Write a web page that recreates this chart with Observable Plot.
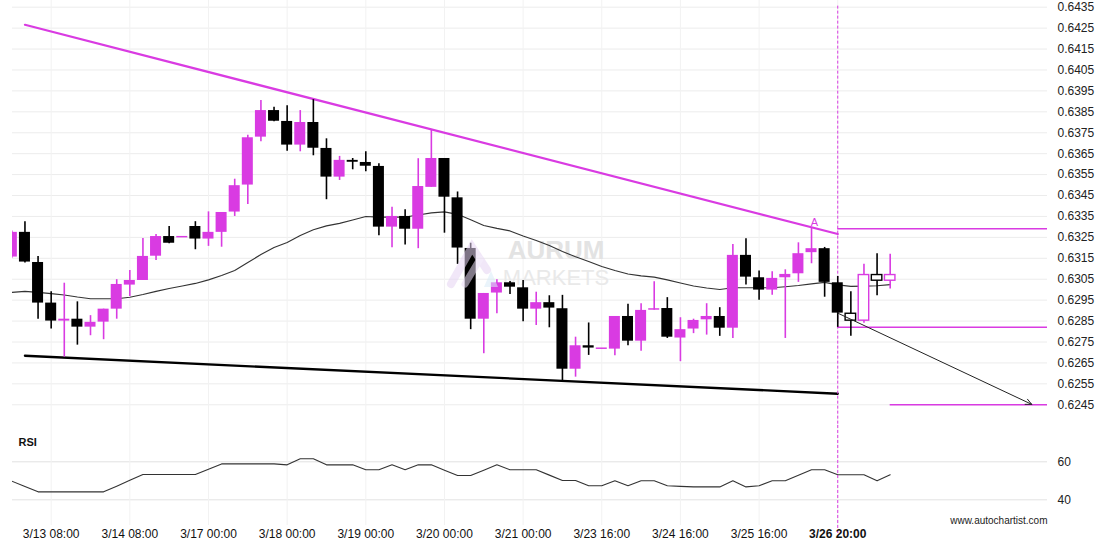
<!DOCTYPE html>
<html><head><meta charset="utf-8">
<script src="https://cdn.jsdelivr.net/npm/d3@7"></script>
<script src="https://cdn.jsdelivr.net/npm/@observablehq/plot@0.6"></script>
<style>
html,body{margin:0;padding:0;background:#fff;}
#chart{position:relative;width:1110px;height:550px;font-family:"Liberation Sans",Arial,sans-serif;}
#chart svg{display:block;}
#logo{position:absolute;left:0;top:0;pointer-events:none;}
</style></head><body>
<div id="chart"></div>
<script>
// ---- data (4h candles, index 0..67) ----
const opens  = [0.63156,0.63274,0.63130,0.62936,0.62850,0.62859,0.62821,0.62845,0.62907,0.63022,
                0.63044,0.63160,0.63254,0.63250,0.63302,0.63242,0.63274,0.63371,0.63500,0.63729,
                0.63856,0.63804,0.63691,0.63799,0.63675,0.63538,0.63618,0.63608,0.63589,0.63299,
                0.63350,0.63289,0.63489,0.63627,0.63439,0.63197,0.62859,0.62984,0.63033,0.63009,
                0.62907,0.62938,0.62909,0.62620,0.62732,0.62717,0.62716,0.62872,0.62754,0.62902,
                0.62910,0.62769,0.62812,0.62856,0.62872,0.62816,0.63164,0.63057,0.62998,0.63057,
                0.63076,0.63177,0.63196,0.63033,0.62885,0.62852,0.63070,0.63043];
const highs  = [0.63280,0.63325,0.63159,0.62990,0.63031,0.62942,0.62876,0.62907,0.63048,0.63092,
                0.63245,0.63264,0.63302,0.63252,0.63325,0.63372,0.63369,0.63528,0.63738,0.63904,
                0.63872,0.63879,0.63856,0.63908,0.63721,0.63637,0.63627,0.63659,0.63602,0.63394,
                0.63382,0.63626,0.63761,0.63627,0.63467,0.63222,0.62982,0.63048,0.63039,0.63044,
                0.62988,0.62971,0.62973,0.62773,0.62841,0.62719,0.62872,0.62930,0.62933,0.63038,
                0.62962,0.62866,0.62859,0.62933,0.62914,0.63216,0.63243,0.63089,0.63086,0.63095,
                0.63224,0.63296,0.63202,0.63063,0.62990,0.63121,0.63172,0.63169];
const lows   = [0.63150,0.63127,0.62859,0.62812,0.62678,0.62735,0.62780,0.62761,0.62859,0.62968,
                0.63044,0.63140,0.63220,0.63250,0.63191,0.63207,0.63203,0.63350,0.63407,0.63707,
                0.63802,0.63662,0.63659,0.63640,0.63430,0.63522,0.63573,0.63564,0.63258,0.63200,
                0.63213,0.63196,0.63489,0.63270,0.63121,0.62809,0.62694,0.62885,0.62977,0.62847,
                0.62829,0.62818,0.62566,0.62582,0.62686,0.62717,0.62684,0.62732,0.62706,0.62902,
                0.62767,0.62656,0.62790,0.62783,0.62777,0.62767,0.63022,0.62949,0.62974,0.62767,
                0.63035,0.63124,0.62964,0.62820,0.62777,0.62840,0.62971,0.63003];
const closes = [0.63274,0.63132,0.62936,0.62850,0.62859,0.62821,0.62844,0.62907,0.63025,0.63044,
                0.63159,0.63254,0.63222,0.63252,0.63242,0.63274,0.63369,0.63497,0.63726,0.63856,
                0.63805,0.63691,0.63799,0.63676,0.63538,0.63618,0.63609,0.63590,0.63299,0.63350,
                0.63289,0.63493,0.63627,0.63442,0.63199,0.62859,0.62982,0.63033,0.63012,0.62907,
                0.62938,0.62912,0.62620,0.62732,0.62721,0.62719,0.62872,0.62754,0.62901,0.62909,
                0.62773,0.62809,0.62853,0.62872,0.62816,0.63164,0.63060,0.62998,0.63054,0.63073,
                0.63172,0.63196,0.63035,0.62888,0.62852,0.63070,0.63043,0.63070];
const movingAvg = [0.62987,0.62992,0.62987,0.62981,0.62975,0.62965,0.62957,0.62957,0.62957,0.62964,
                0.62977,0.62992,0.63006,0.63018,0.63030,0.63047,0.63068,0.63092,0.63130,0.63168,
                0.63202,0.63226,0.63259,0.63286,0.63305,0.63317,0.63333,0.63350,0.63347,0.63347,
                0.63347,0.63357,0.63367,0.63372,0.63360,0.63334,0.63307,0.63293,0.63281,0.63257,
                0.63235,0.63211,0.63183,0.63157,0.63135,0.63111,0.63092,0.63075,0.63066,0.63060,
                0.63047,0.63032,0.63018,0.63008,0.63001,0.63009,0.63009,0.63009,0.63009,0.63014,
                0.63020,0.63028,0.63035,0.63023,0.63016,0.63017,0.63019,0.63024];
const rsiValues = [49.8,47.0,44.2,44.2,44.2,44.2,44.2,44.2,47.2,50.3,
                53.3,53.3,53.3,53.3,53.3,56.1,58.9,58.9,58.9,58.9,
                58.9,58.4,61.6,61.6,58.4,58.4,58.4,55.8,55.8,58.4,
                55.8,58.4,58.4,55.6,52.8,52.8,55.6,58.4,55.8,55.8,
                55.8,53.0,50.2,50.2,47.4,47.4,50.0,47.4,50.0,50.0,
                47.4,47.1,46.8,46.8,46.8,50.0,46.8,47.4,50.0,50.0,
                52.9,55.8,55.8,53.2,53.2,53.2,50.0,53.2];
const xTickIdx = [3,9,15,21,27,33,39,45,51,57,63];
const xTickLabels = ["3/13 08:00","3/14 08:00","3/17 00:00","3/18 00:00","3/19 00:00","3/20 00:00",
                     "3/21 00:00","3/23 16:00","3/24 16:00","3/25 16:00","3/26 20:00"];
const priceTicks = [0.6245,0.6255,0.6265,0.6275,0.6285,0.6295,0.6305,0.6315,0.6325,0.6335,
                    0.6345,0.6355,0.6365,0.6375,0.6385,0.6395,0.6405,0.6415,0.6425,0.6435];
const rsiTicks = [40,60];
const resistanceIdx = [1,63];
const resistanceVal = [0.64266,0.63266];
const supportIdx = [1,63];
const supportVal = [0.62684,0.62503];
const levelVal = [0.63291,0.62820,0.62450];
const levelStart = [63,63,67];
const arrowIdx = [63,77.8];
const arrowVal = [0.62888,0.62452];
const patternIdx = 63;
const pointAIdx = 61, pointAVal = 0.63321;

// ---- layout ----
const W = 1110, MAIN_H = 425, RSI_H = 125, ML = 12, MR = 63;
const xDomain = [0.05, 79];
const MAG = "#d93be2";
const font = "Liberation Sans, Arial, sans-serif";

const rows = opens.map((o,i)=>{
  const c = closes[i];
  let lo = Math.min(o,c), hi = Math.max(o,c);
  if (hi - lo < 0.00007) { const m=(hi+lo)/2; lo=m-0.000035; hi=m+0.000035; }
  const col = c >= o ? MAG : "#000";
  return {i, open:o, close:c, high:highs[i], low:lows[i], b1:lo, b2:hi, col, hollow: i > patternIdx};
});
const solid = rows.filter(d=>!d.hollow), hollow = rows.filter(d=>d.hollow);

const main = Plot.plot({
  width: W, height: MAIN_H, marginLeft: ML, marginRight: MR, marginTop: 0, marginBottom: 0,
  x: {type:"linear", domain: xDomain, axis: null},
  y: {domain: [0.62351, 0.64382], axis: null},
  color: {type:"identity"},
  style: {fontFamily: font, background:"transparent", overflow:"visible"},
  marks: [
    Plot.gridY(priceTicks, {stroke:"#ececec", strokeOpacity:1}),
    Plot.gridX(xTickIdx, {stroke:"#f2f2f2", strokeOpacity:1}),
    Plot.axisY(priceTicks, {anchor:"right", tickSize:0, tickPadding:10, label:null,
      tickFormat: d=>d.toFixed(4), fontSize:12, fill:"#222"}),
    Plot.text(["AURUM"], {frameAnchor:"middle", dx:26, dy:38, fontSize:26, fontWeight:"bold", fill:"#e3e3e3"}),
    Plot.text(["MARKETS"], {frameAnchor:"middle", dx:26, dy:65, fontSize:22, fontWeight:300, fill:"#e9e9e9"}),
    Plot.line(movingAvg.map((v,i)=>({i,v})), {x:"i", y:"v", stroke:"#333", strokeWidth:1.1, clip:true}),
    Plot.line(resistanceIdx.map((x,k)=>({x, v:resistanceVal[k]})), {x:"x", y:"v", stroke:MAG, strokeWidth:2.2}),
    Plot.line(supportIdx.map((x,k)=>({x, v:supportVal[k]})), {x:"x", y:"v", stroke:"#000", strokeWidth:2.4}),
    Plot.ruleY(levelVal.map((v,k)=>({v, s:levelStart[k]})), {y:"v", x1:"s", x2:()=>xDomain[1], stroke:MAG, strokeWidth:1.5}),
    Plot.ruleX([patternIdx], {x:d=>d, y1:()=>0.64355, y2:()=>0.62351, stroke:MAG, strokeWidth:1, strokeDasharray:"3,2"}),
    Plot.ruleX(rows, {x:"i", y1:"low", y2:"high", stroke:"col", strokeWidth:1.6, clip:true}),
    Plot.rect(solid, {x1:d=>d.i-0.42, x2:d=>d.i+0.42, y1:"b1", y2:"b2", fill:"col", clip:true}),
    Plot.rect(hollow, {x1:d=>d.i-0.40, x2:d=>d.i+0.40, y1:"b1", y2:"b2", fill:"#fff", stroke:"col", strokeWidth:1.4}),
    Plot.arrow([{x1:arrowIdx[0], y1:arrowVal[0], x2:arrowIdx[1], y2:arrowVal[1]}],
      {x1:"x1", y1:"y1", x2:"x2", y2:"y2", stroke:"#222", strokeWidth:1, headLength:10, headAngle:50}),
    Plot.text([{x:pointAIdx, v:pointAVal}], {x:"x", y:"v", text:()=>"A", fill:MAG, fontSize:11, dx:3})
  ]
});

const rsiPlot = Plot.plot({
  width: W, height: RSI_H, marginLeft: ML, marginRight: MR, marginTop: 0, marginBottom: 25,
  x: {type:"linear", domain: xDomain, axis: null},
  y: {domain: [26.5, 79.1], axis: null},
  style: {fontFamily: font, background:"transparent", overflow:"visible"},
  marks: [
    Plot.gridY(rsiTicks, {stroke:"#e2e2e2", strokeOpacity:1}),
    Plot.gridX(xTickIdx, {stroke:"#f2f2f2", strokeOpacity:1}),
    Plot.axisY(rsiTicks, {anchor:"right", tickSize:0, tickPadding:10, label:null, fontSize:12, fill:"#222"}),
    Plot.line(rsiValues.map((v,i)=>({i,v})), {x:"i", y:"v", stroke:"#333", strokeWidth:1.1, clip:true}),
    Plot.ruleX([patternIdx], {x:d=>d, y1:()=>79.1, y2:()=>22, stroke:MAG, strokeWidth:1, strokeDasharray:"3,2"}),
    Plot.text(xTickIdx.slice(0,-1), {x:d=>d, text:(d,k)=>xTickLabels[k], frameAnchor:"bottom", dy:12, fontSize:12, fill:"#111"}),
    Plot.text(xTickIdx.slice(-1), {x:d=>d, text:()=>xTickLabels[xTickLabels.length-1], frameAnchor:"bottom", dy:12, fontSize:12, fontWeight:"bold", fill:"#111"}),
    Plot.text(["RSI"], {frameAnchor:"top-left", dx:6, dy:13, fontSize:11, fontWeight:"bold", textAnchor:"start", fill:"#111"}),
    Plot.text(["www.autochartist.com"], {frameAnchor:"bottom-right", dy:-2, textAnchor:"end", fontSize:10, fill:"#222"})
  ]
});

const chart = document.getElementById("chart");
chart.appendChild(main);
chart.appendChild(rsiPlot);

// faint watermark logo
const ns = "http://www.w3.org/2000/svg";
const logo = document.createElementNS(ns, "svg");
logo.setAttribute("id","logo"); logo.setAttribute("width", W); logo.setAttribute("height", MAIN_H);
logo.innerHTML = `<g stroke-linecap="round" fill="none" opacity="0.55">
 <polyline points="451,284 472,247 487,270" stroke="#e6d4f4" stroke-width="8"/>
 <polyline points="465,284 480,259" stroke="#eadcf6" stroke-width="7"/>
 <polygon points="484,287 498,287 491,271" fill="#d9ecf8" stroke="none"/>
</g>`;
chart.appendChild(logo);
</script>
</body></html>
